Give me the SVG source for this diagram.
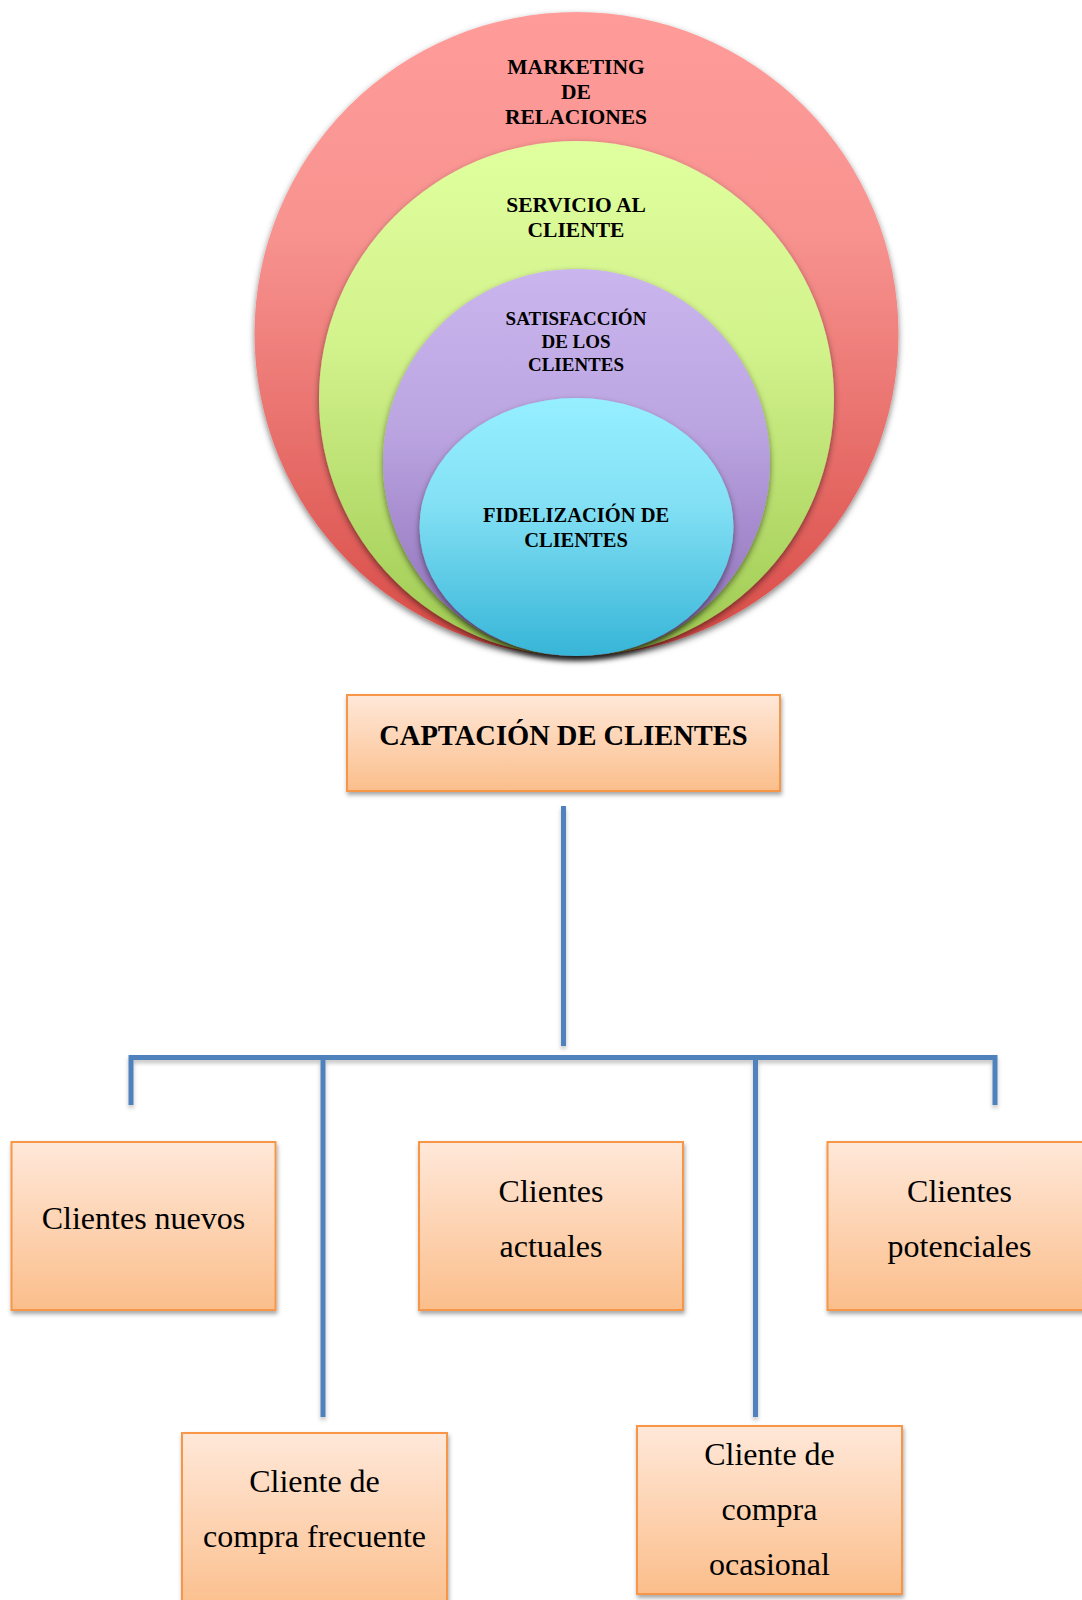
<svg xmlns="http://www.w3.org/2000/svg" width="1082" height="1600" viewBox="0 0 1082 1600">
<style>
.ct{font-family:"Liberation Serif","Times New Roman",serif;font-weight:bold;fill:#000;text-anchor:middle}
.bx{stroke:#F79646;stroke-width:2;fill:url(#gBox);filter:url(#sh)}
.bt{font-family:"Liberation Serif","Times New Roman",serif;font-size:32px;fill:#000;text-anchor:middle}
.cn{stroke:#4F81BD;stroke-width:5;fill:none}
</style>
<defs>
<linearGradient id="gRed" x1="0" y1="0" x2="0" y2="1"><stop offset="0" stop-color="#FF9C99"/><stop offset="0.35" stop-color="#F7928F"/><stop offset="1" stop-color="#D84A45"/></linearGradient>
<linearGradient id="gGreen" x1="0" y1="0" x2="0" y2="1"><stop offset="0" stop-color="#E0FF9E"/><stop offset="0.4" stop-color="#D2F28C"/><stop offset="1" stop-color="#9DC950"/></linearGradient>
<linearGradient id="gPurple" x1="0" y1="0" x2="0" y2="1"><stop offset="0" stop-color="#CAB5EE"/><stop offset="0.4" stop-color="#BCA6E2"/><stop offset="1" stop-color="#8B6BB6"/></linearGradient>
<linearGradient id="gCyan" x1="0" y1="0" x2="0" y2="1"><stop offset="0" stop-color="#95EFFF"/><stop offset="0.4" stop-color="#84E1F5"/><stop offset="1" stop-color="#37B5D7"/></linearGradient>
<linearGradient id="gBox" x1="0" y1="0" x2="0" y2="1"><stop offset="0" stop-color="#FFE8D9"/><stop offset="1" stop-color="#FBBE8B"/></linearGradient>
<filter id="sh" x="-10%" y="-10%" width="130%" height="130%"><feDropShadow dx="1" dy="3" stdDeviation="2" flood-color="#000" flood-opacity="0.35"/></filter>
<filter id="shl" filterUnits="userSpaceOnUse" x="0" y="0" width="1082" height="1600"><feDropShadow dx="0" dy="3" stdDeviation="2" flood-color="#000" flood-opacity="0.25"/></filter>
<filter id="shc" x="-10%" y="-10%" width="120%" height="125%"><feDropShadow dx="0" dy="3" stdDeviation="3" flood-color="#000" flood-opacity="0.5"/></filter>
</defs>
<rect width="1082" height="1600" fill="#fff"/>

<g id="marketing">
<circle cx="576.5" cy="334" r="322" fill="url(#gRed)" filter="url(#shc)"/>
<text class="ct" font-size="21.5" x="576" y="74">MARKETING</text>
<text class="ct" font-size="21.5" x="576" y="99">DE</text>
<text class="ct" font-size="21.5" x="576" y="124">RELACIONES</text>
</g>
<g id="servicio">
<circle cx="576.5" cy="398.5" r="257.5" fill="url(#gGreen)" filter="url(#shc)"/>
<text class="ct" font-size="21.5" x="576" y="212">SERVICIO AL</text>
<text class="ct" font-size="21.5" x="576" y="237">CLIENTE</text>
</g>
<g id="satisfaccion">
<circle cx="576.5" cy="462.5" r="193.5" fill="url(#gPurple)" filter="url(#shc)"/>
<text class="ct" font-size="19" x="576" y="325">SATISFACCIÓN</text>
<text class="ct" font-size="19" x="576" y="348">DE LOS</text>
<text class="ct" font-size="19" x="576" y="371">CLIENTES</text>
</g>
<g id="fidelizacion">
<ellipse cx="576.5" cy="527" rx="157" ry="129" fill="url(#gCyan)" filter="url(#shc)"/>
<text class="ct" font-size="20.5" x="576" y="522">FIDELIZACIÓN DE</text>
<text class="ct" font-size="20.5" x="576" y="547">CLIENTES</text>
</g>

<g id="connectors" filter="url(#shl)">
<line class="cn" x1="563.5" y1="806" x2="563.5" y2="1046"/>
<polyline class="cn" points="131,1105 131,1057.5 995,1057.5 995,1105"/>
<line class="cn" x1="323" y1="1057.5" x2="323" y2="1417"/>
<line class="cn" x1="755.5" y1="1057.5" x2="755.5" y2="1417"/>
</g>

<g id="captacion">
<rect class="bx" x="347" y="695" width="433" height="96"/>
<text class="ct" font-size="28.5" x="563.5" y="745">CAPTACIÓN DE CLIENTES</text>
</g>
<g id="nuevos">
<rect class="bx" x="11.5" y="1142" width="264" height="168"/>
<text class="bt" x="143.5" y="1229">Clientes nuevos</text>
</g>
<g id="actuales">
<rect class="bx" x="419" y="1142" width="264" height="168"/>
<text class="bt" x="551" y="1202">Clientes</text>
<text class="bt" x="551" y="1257">actuales</text>
</g>
<g id="potenciales">
<rect class="bx" x="827.5" y="1142" width="264" height="168"/>
<text class="bt" x="959.5" y="1202">Clientes</text>
<text class="bt" x="959.5" y="1257">potenciales</text>
</g>
<g id="frecuente">
<rect class="bx" x="182" y="1433" width="265" height="180"/>
<text class="bt" x="314.5" y="1492">Cliente de</text>
<text class="bt" x="314.5" y="1547">compra frecuente</text>
</g>
<g id="ocasional">
<rect class="bx" x="637" y="1426" width="265" height="168"/>
<text class="bt" x="769.5" y="1465">Cliente de</text>
<text class="bt" x="769.5" y="1520">compra</text>
<text class="bt" x="769.5" y="1575">ocasional</text>
</g>
</svg>
